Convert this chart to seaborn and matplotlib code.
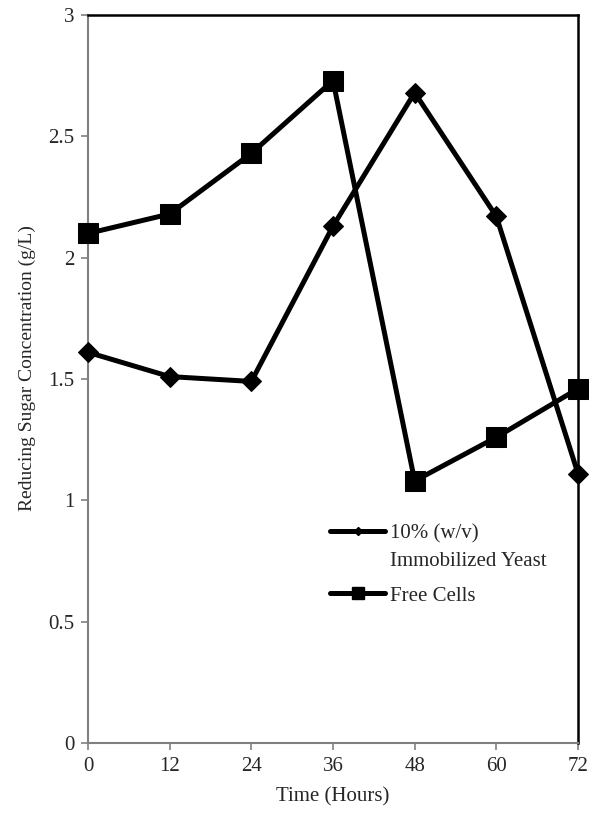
import matplotlib
matplotlib.use("Agg")
import matplotlib.pyplot as plt
from matplotlib.lines import Line2D
import seaborn as sns
import pandas as pd

time_hours = [0, 12, 24, 36, 48, 60, 72]
immobilized = [1.61, 1.51, 1.49, 2.13, 2.68, 2.17, 1.11]
free_cells = [2.10, 2.18, 2.43, 2.73, 1.08, 1.26, 1.46]
x_ticks = [0, 12, 24, 36, 48, 60, 72]
y_ticks = [0, 0.5, 1, 1.5, 2, 2.5, 3]
y_tick_labels = ["0", "0.5", "1", "1.5", "2", "2.5", "3"]

sns.set_theme(style="white")
plt.rcParams['font.family'] = ['Liberation Serif', 'DejaVu Serif']

fig = plt.figure(figsize=(5.96, 8.15), dpi=100)
ax = fig.add_axes([0.1477, 0.0883, 0.8221, 0.8933])

df_imm = pd.DataFrame({"t": time_hours, "v": immobilized})
df_free = pd.DataFrame({"t": time_hours, "v": free_cells})

sns.lineplot(data=df_imm, x="t", y="v", ax=ax, color="black", linewidth=3.6,
             marker="D", markersize=10.5, markeredgecolor="black",
             clip_on=False, zorder=3, legend=False)
sns.lineplot(data=df_free, x="t", y="v", ax=ax, color="black", linewidth=3.6,
             marker="s", markersize=14.5, markeredgecolor="black",
             clip_on=False, zorder=3, legend=False)

ax.set_xlim(0, 72)
ax.set_ylim(0, 3)
ax.set_xticks(x_ticks)
ax.set_xticklabels([str(t) for t in x_ticks])
ax.set_yticks(y_ticks)
ax.set_yticklabels(y_tick_labels)
ax.set_xlabel("Time (Hours)", fontsize=15, labelpad=8)
ax.set_ylabel("Reducing Sugar Concentration (g/L)", fontsize=14)
ax.yaxis.set_label_coords(-0.106, 0.515)
ax.tick_params(axis="both", which="both", direction="out", length=5, width=1.2,
               color="#808080", labelsize=15, bottom=True, left=True, pad=5)

for side in ["left", "bottom"]:
    ax.spines[side].set_color("#808080")
    ax.spines[side].set_linewidth(1.5)
for side in ["top", "right"]:
    ax.spines[side].set_color("black")
    ax.spines[side].set_linewidth(1.8)
    ax.spines[side].set_visible(True)

h_imm = Line2D([], [], color="black", linewidth=3.6, marker="D", markersize=4.5)
h_blank = Line2D([], [], color="none", linewidth=0)
h_free = Line2D([], [], color="black", linewidth=3.6, marker="s", markersize=8.5)

leg1 = ax.legend([h_imm, h_blank], ["10% (w/v)", "Immobilized Yeast"],
                 loc="upper left", bbox_to_anchor=(0.494, 0.301), frameon=False,
                 fontsize=15, handlelength=2.64, handletextpad=0.25,
                 labelspacing=0.4, borderpad=0, borderaxespad=0)
ax.add_artist(leg1)
leg2 = ax.legend([h_free], ["Free Cells"],
                 loc="center left", bbox_to_anchor=(0.494, 0.202), frameon=False,
                 fontsize=15, handlelength=2.64, handletextpad=0.25,
                 borderpad=0, borderaxespad=0)

fig.savefig("out.png", dpi=100)
